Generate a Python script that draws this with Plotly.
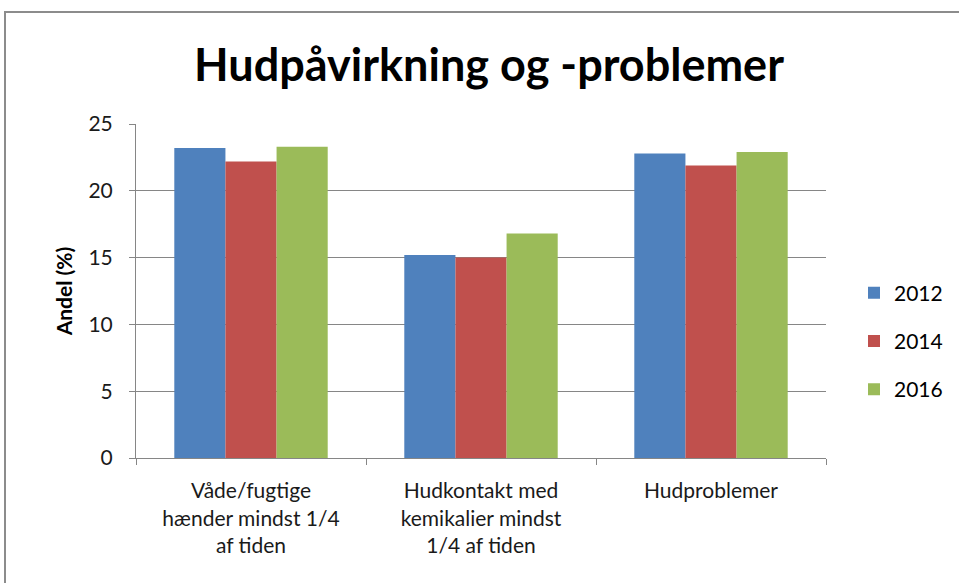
import plotly.graph_objects as go

categories = ["Våde/fugtige<br>hænder mindst 1/4<br>af tiden",
              "Hudkontakt med<br>kemikalier mindst<br>1/4 af tiden",
              "Hudproblemer"]
years = ["2012", "2014", "2016"]
values_2012 = [23.2, 15.2, 22.8]
values_2014 = [22.2, 15.0, 21.9]
values_2016 = [23.3, 16.8, 22.9]
colors = ["#4F81BD", "#C0504D", "#9BBB59"]

FONT = "Lato, Open Sans, sans-serif"

fig = go.Figure()
for name, vals, col in zip(years, [values_2012, values_2014, values_2016], colors):
    fig.add_trace(go.Bar(name=name, x=categories, y=vals, legendgroup=name,
                         marker=dict(color=col, line=dict(width=0))))

W, H = 959, 583
L, R, T, B = 136, 133, 124, 125
pw, ph = W - L - R, H - T - B

def px(x):
    return (x - L) / pw

def py(y):
    return (H - B - y) / ph

fig.update_layout(
    width=W, height=H,
    margin=dict(l=L, r=R, t=T, b=B, autoexpand=False),
    paper_bgcolor="white", plot_bgcolor="white",
    barmode="group", bargap=0.333, bargroupgap=0,
    font=dict(family=FONT, size=21, color="#000000"),
    title=dict(text="<b>Hudpåvirkning og -problemer</b>", x=px(489), xref="paper",
               xanchor="center", y=1 - 65 / H, yanchor="middle",
               font=dict(size=45, family=FONT, color="#000000")),
    legend=dict(x=px(854), y=py(341), xanchor="left", yanchor="middle",
                xref="paper", yref="paper", font=dict(size=21),
                tracegroupgap=18, itemwidth=30, traceorder="grouped"),
    xaxis=dict(showline=True, linecolor="#868686", linewidth=1,
               ticks="outside", tickson="boundaries", ticklen=6, tickcolor="#868686",
               tickfont=dict(size=21, color="#1a1a1a"), showgrid=False, ticklabelstandoff=14),
    yaxis=dict(range=[0, 25], dtick=5, showline=True, linecolor="#868686", linewidth=1,
               ticks="outside", ticklen=6, tickcolor="#868686",
               gridcolor="#868686", gridwidth=1, tickfont=dict(size=21, color="#1a1a1a"),
               ticklabelstandoff=12,
               title=dict(text="<b>Andel (%)</b>", font=dict(size=21), standoff=10),
               zeroline=False),
    shapes=[dict(type="rect", xref="paper", yref="paper",
                 x0=px(5), x1=px(975), y0=py(600), y1=py(12),
                 line=dict(color="#8C8C8C", width=2), fillcolor="rgba(0,0,0,0)", layer="below")],
)

fig.write_html("out.html", config={"displayModeBar": False},
               post_script="document.body.style.margin='0';document.body.style.overflow='hidden';")
